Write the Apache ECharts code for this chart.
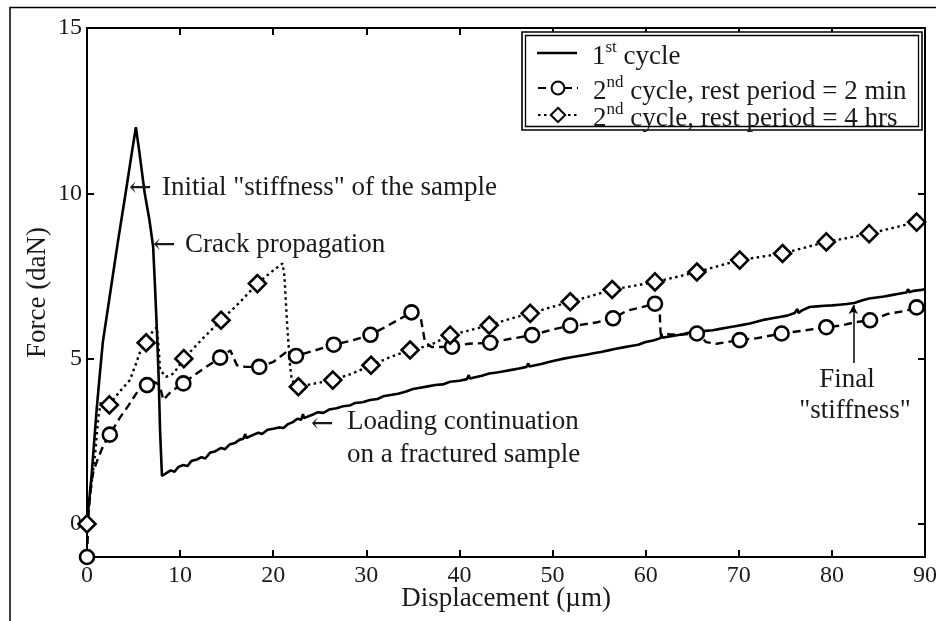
<!DOCTYPE html>
<html>
<head>
<meta charset="utf-8">
<script src="https://cdn.jsdelivr.net/npm/echarts@6/dist/echarts.min.js"></script>
<style>
html,body{margin:0;padding:0;background:#fff;}
#chart{width:936px;height:621px;}
</style>
</head>
<body>
<div id="chart"></div>
<script>
// ---------- data ----------
const xTicks = [0, 10, 20, 30, 40, 50, 60, 70, 80, 90];
const yTicks = [0, 5, 10, 15];

const seriesNames = ['1st cycle', '2nd cycle, rest period = 2 min', '2nd cycle, rest period = 4 hrs'];

// 1st cycle (solid)
const cycle1 = [
  [0,0],[0.3,0.9],[0.5,1.5],[0.8,2.6],[1.05,3.5],[1.4,4.6],[1.7,5.5],[2.5,7.0],[3.3,8.5],[4.2,10.1],
  [4.8,11.2],[5.25,12.0],[5.6,11.3],[6.2,10.0],[6.7,9.2],[7.1,8.4],[7.3,7.2],[7.5,5.9],[7.7,4.4],[7.85,2.8],
  [8.05,1.45],[8.6,1.55],[9.0,1.62],[9.4,1.58],[9.8,1.72],[10.3,1.78],[10.8,1.75],[11.2,1.9],[11.8,1.95],
  [12.3,2.02],[12.7,1.98],[13.2,2.15],[13.8,2.2],[14.4,2.3],[14.8,2.26],[15.3,2.4],[15.9,2.45],[16.4,2.55],
  [16.8,2.58],[17.0,2.72],[17.1,2.6],[17.9,2.7],[18.4,2.76],[18.8,2.72],[19.4,2.85],[20.0,2.88],[20.6,2.92],
  [21.1,2.9],[21.6,3.02],[22.1,3.08],[22.6,3.18],[23.0,3.15],[23.2,3.32],[23.3,3.2],[24.2,3.3],[24.8,3.38],
  [25.4,3.36],[26.0,3.46],[26.8,3.5],[27.5,3.56],[28.2,3.58],[28.8,3.66],[29.6,3.68],[30.4,3.75],[31.2,3.78],
  [31.8,3.86],[32.6,3.9],[33.4,3.94],[34.2,4.0],[35.0,4.08],[35.8,4.12],[36.6,4.16],[37.4,4.2],[38.2,4.22],
  [39.0,4.3],[40.0,4.33],[40.8,4.38],[41.0,4.5],[41.1,4.4],[42.4,4.48],[43.2,4.55],[44.0,4.58],[44.8,4.62],
  [45.6,4.66],[46.4,4.7],[47.2,4.75],[47.4,4.86],[47.5,4.76],[48.8,4.84],[49.6,4.9],[50.4,4.95],[51.2,5.0],
  [52.0,5.04],[52.8,5.08],[53.6,5.12],[54.4,5.16],[55.2,5.2],[56.0,5.25],[56.8,5.3],[57.6,5.34],[58.4,5.38],
  [59.2,5.42],[60.0,5.5],[60.8,5.55],[61.6,5.62],[61.7,5.74],[61.8,5.63],[62.4,5.66],[63.2,5.7],[64.0,5.74],
  [64.8,5.8],[65.6,5.82],[66.4,5.84],[67.2,5.86],[68.0,5.9],[68.8,5.94],[69.6,5.98],[70.4,6.02],[71.2,6.06],
  [72.0,6.12],[72.8,6.18],[73.6,6.22],[74.4,6.26],[75.2,6.3],[76.0,6.38],[76.3,6.5],[76.4,6.38],[76.8,6.46],
  [77.6,6.56],[78.4,6.58],[79.2,6.6],[80.0,6.61],[80.8,6.63],[81.6,6.65],[82.4,6.68],[83.2,6.76],[84.0,6.82],
  [84.8,6.85],[85.6,6.88],[86.4,6.92],[87.2,6.96],[88.0,7.0],[88.2,7.1],[88.3,7.01],[88.8,7.05],[89.6,7.08],[90,7.1]
];

// 2nd cycle, rest period = 2 min (dashed, circles)
const rest2min = [
  [0,-1],[0.2,0.5],[0.5,1.3],[0.7,1.6],[1.2,2.0],[1.8,2.4],[2.45,2.7],[3.5,3.2],[4.5,3.6],[5.3,3.95],
  [6.45,4.2],[7.2,4.3],[7.8,4.2],[8.2,3.75],[9.0,4.0],[10.35,4.25],[11.5,4.5],[12.8,4.75],[14.3,5.03],
  [15.4,5.25],[16.1,4.8],[17.0,4.75],[18.5,4.75],[20.0,4.9],[21.4,5.2],[22.45,5.08],[24.5,5.25],[26.5,5.42],
  [28.5,5.55],[30.45,5.72],[32.0,5.95],[33.6,6.2],[34.85,6.4],[35.8,6.3],[36.3,5.5],[37.0,5.35],[39.2,5.36],
  [41.0,5.45],[43.3,5.48],[45.5,5.6],[47.8,5.71],[50.0,5.88],[51.9,6.0],[53.0,6.02],[54.8,6.1],[56.5,6.22],
  [58.0,6.45],[59.5,6.55],[61.0,6.66],[61.5,6.5],[61.6,5.75],[63.5,5.72],[65.5,5.76],[66.5,5.5],[67.6,5.45],
  [70.1,5.56],[72.0,5.62],[74.6,5.76],[77.0,5.85],[79.4,5.95],[81.0,6.0],[82.5,6.1],[84.1,6.16],[86.0,6.35],
  [88.0,6.45],[89.1,6.55],[90,6.6]
];
// x positions of the circle markers on the 2 min curve
const rest2minMarks = [0,2.45,6.45,10.35,14.3,18.5,22.45,26.5,30.45,34.85,39.2,43.3,47.8,51.9,56.5,61.0,65.5,70.1,74.6,79.4,84.1,89.1];

// 2nd cycle, rest period = 4 hrs (dotted, diamonds)
const rest4hrs = [
  [0,0],[0.3,0.8],[0.6,1.5],[0.9,2.2],[1.2,3.2],[1.5,3.7],[2.4,3.6],[3.5,4.0],[4.6,4.35],[5.2,4.8],
  [5.7,5.2],[6.35,5.48],[7.0,5.8],[7.5,5.95],[7.7,5.3],[7.85,4.65],[8.5,4.45],[9.3,4.55],[10.4,5.0],
  [12.4,5.6],[14.4,6.16],[16.4,6.7],[18.3,7.27],[19.7,7.6],[21.0,7.88],[21.2,7.5],[21.5,6.0],[21.8,4.8],
  [22.0,4.35],[22.7,4.15],[24.5,4.25],[26.4,4.35],[28.5,4.55],[30.5,4.8],[32.6,5.05],[34.7,5.26],[36.8,5.4],
  [39.0,5.71],[41.0,5.85],[43.2,6.01],[45.4,6.2],[47.6,6.37],[49.8,6.55],[51.9,6.72],[54.2,6.9],[56.4,7.09],
  [58.7,7.2],[61.0,7.32],[63.3,7.47],[65.5,7.62],[67.8,7.8],[70.1,7.98],[72.4,8.08],[74.7,8.18],[77.0,8.35],
  [79.4,8.53],[81.7,8.65],[84.0,8.78],[86.5,8.95],[89.1,9.13],[90,9.2]
];
// x positions of the diamond markers on the 4 hrs curve
const rest4hrsMarks = [0,2.4,6.35,10.4,14.4,18.3,22.7,26.4,30.5,34.7,39.0,43.2,47.6,51.9,56.4,61.0,65.5,70.1,74.7,79.4,84.0,89.1];

// ---------- chart ----------
const FONT = '"Liberation Serif", "DejaVu Serif", serif';
const ARROWFONT = '"DejaVu Serif", serif';
const TXT = '#1a1a1a';

function withMarks(points, marks, symbol, size) {
  return points.map(p => marks.indexOf(p[0]) >= 0
    ? { value: p, symbol: symbol, symbolSize: size }
    : { value: p, symbol: 'none' });
}

function legendFmt(name) {
  const m = name.match(/^(\d)(st|nd)(.*)$/);
  return '{n|' + m[1] + '}{s|' + m[2] + '}{n|' + m[3] + '}';
}
const legendText = {
  color: TXT, fontFamily: FONT, fontSize: 27, padding: [8, 0, 0, 10],
  rich: {
    n: { fontFamily: FONT, fontSize: 27, lineHeight: 36, color: TXT },
    s: { fontFamily: FONT, fontSize: 17, lineHeight: 14, verticalAlign: 'top', color: TXT }
  }
};

const chart = echarts.init(document.getElementById('chart'), null, { renderer: 'canvas' });

const axisLineStyle = { color: '#000', width: 2 };
const tickStyle = { color: '#000', width: 2 };

chart.setOption({
  animation: false,
  backgroundColor: '#fff',
  grid: { left: 87, right: 11, top: 28, bottom: 64, containLabel: false, outerBoundsMode: 'none' },
  xAxis: [
    {
      type: 'value', min: 0, max: 90, interval: 10, position: 'bottom',
      axisLine: { onZero: false, lineStyle: axisLineStyle },
      axisTick: { inside: true, length: 7, lineStyle: tickStyle },
      axisLabel: { fontFamily: FONT, fontSize: 24, color: TXT, margin: 7, formatter: v => String(v) },
      splitLine: { show: false },
      name: 'Displacement (\u00b5m)', nameLocation: 'middle', nameGap: 28, nameMoveOverlap: false,
      nameTextStyle: { fontFamily: FONT, fontSize: 27, color: TXT }
    },
    {
      type: 'value', min: 0, max: 90, interval: 10, position: 'top',
      axisLine: { onZero: false, lineStyle: axisLineStyle },
      axisTick: { inside: true, length: 7, lineStyle: tickStyle },
      axisLabel: { show: false }, splitLine: { show: false }
    }
  ],
  yAxis: [
    {
      type: 'value', min: -1, max: 15, position: 'left',
      axisLine: { onZero: false, lineStyle: axisLineStyle },
      axisTick: { inside: true, length: 7, lineStyle: tickStyle, customValues: yTicks },
      axisLabel: { fontFamily: FONT, fontSize: 24, color: TXT, margin: 5, customValues: yTicks },
      splitLine: { show: false },
      name: 'Force (daN)', nameLocation: 'middle', nameGap: 36, nameRotate: 90, nameMoveOverlap: false,
      nameTextStyle: { fontFamily: FONT, fontSize: 27, color: TXT }
    },
    {
      type: 'value', min: -1, max: 15, position: 'right',
      axisLine: { onZero: false, lineStyle: axisLineStyle },
      axisTick: { inside: true, length: 7, lineStyle: tickStyle, customValues: yTicks },
      axisLabel: { show: false }, splitLine: { show: false }
    }
  ],
  legend: [
    {
      data: [{ name: seriesNames[0], icon: 'rect' }], left: 537, top: 39, padding: 0,
      itemWidth: 40, itemHeight: 2.5, formatter: legendFmt, textStyle: legendText, z: 20,
      selectedMode: false
    },
    {
      data: [seriesNames[1]], left: 537, top: 74, padding: 0,
      itemWidth: 40, itemHeight: 16, formatter: legendFmt, textStyle: legendText, z: 20,
      selectedMode: false
    },
    {
      data: [seriesNames[2]], left: 537, top: 101, padding: 0,
      itemWidth: 40, itemHeight: 18, formatter: legendFmt, textStyle: legendText, z: 20,
      selectedMode: false
    }
  ],
  series: [
    {
      name: seriesNames[0], type: 'line', data: cycle1, symbol: 'none', clip: false,
      itemStyle: { color: '#000' },
      lineStyle: { color: '#000', width: 2.6, type: 'solid' },
      z: 2,
      markLine: {
        silent: true, symbol: ['arrow', 'none'], symbolSize: [7, 9],
        lineStyle: { color: '#000', width: 1.5, type: 'solid' },
        label: { show: false },
        data: [[{ coord: [82.3, 6.62] }, { coord: [82.3, 4.87] }]]
      }
    },
    {
      name: seriesNames[1], type: 'line', data: withMarks(rest2min, rest2minMarks, 'circle', 14),
      symbol: 'circle', symbolSize: 14, clip: false,
      itemStyle: { color: '#fff', borderColor: '#000', borderWidth: 2.6 },
      lineStyle: { color: '#000', width: 2.4, type: [8, 5] },
      z: 3
    },
    {
      name: seriesNames[2], type: 'line', data: withMarks(rest4hrs, rest4hrsMarks, 'diamond', 17),
      symbol: 'diamond', symbolSize: 17, clip: false,
      itemStyle: { color: '#fff', borderColor: '#000', borderWidth: 2.6 },
      lineStyle: { color: '#000', width: 2.4, type: [2.5, 3.5] },
      z: 4
    }
  ],
  graphic: [
    // outer frame of the figure
    { type: 'polyline', z: 1, shape: { points: [[10, 621], [10, 7.5], [936, 7.5]] },
      style: { stroke: '#000', lineWidth: 1.5, fill: null } },
    // legend box (double border)
    { type: 'rect', z: 10, shape: { x: 522, y: 32, width: 400, height: 98 },
      style: { stroke: '#000', lineWidth: 1.6, fill: '#fff' } },
    { type: 'rect', z: 11, shape: { x: 525.5, y: 35.5, width: 393, height: 91 },
      style: { stroke: '#000', lineWidth: 1.3, fill: null } },
    // annotations
    { type: 'text', z: 12, x: 129, y: 189, style: { text: '\u2190', fontFamily: ARROWFONT, fontSize: 27, fill: TXT, verticalAlign: 'middle' } },
    { type: 'text', z: 12, x: 162, y: 188, style: { text: 'Initial "stiffness" of the sample', fontFamily: FONT, fontSize: 27, fill: TXT, verticalAlign: 'middle' } },
    { type: 'text', z: 12, x: 153, y: 246, style: { text: '\u2190', fontFamily: ARROWFONT, fontSize: 27, fill: TXT, verticalAlign: 'middle' } },
    { type: 'text', z: 12, x: 185, y: 245, style: { text: 'Crack propagation', fontFamily: FONT, fontSize: 27, fill: TXT, verticalAlign: 'middle' } },
    { type: 'text', z: 12, x: 311, y: 425, style: { text: '\u2190', fontFamily: ARROWFONT, fontSize: 27, fill: TXT, verticalAlign: 'middle' } },
    { type: 'text', z: 12, x: 347, y: 422, style: { text: 'Loading continuation', fontFamily: FONT, fontSize: 27, fill: TXT, verticalAlign: 'middle' } },
    { type: 'text', z: 12, x: 347, y: 455, style: { text: 'on a fractured sample', fontFamily: FONT, fontSize: 27, fill: TXT, verticalAlign: 'middle' } },
    { type: 'text', z: 12, x: 847, y: 380, style: { text: 'Final', fontFamily: FONT, fontSize: 27, fill: TXT, align: 'center', verticalAlign: 'middle' } },
    { type: 'text', z: 12, x: 855, y: 411, style: { text: '"stiffness"', fontFamily: FONT, fontSize: 27, fill: TXT, align: 'center', verticalAlign: 'middle' } }
  ]
});
</script>
</body>
</html>
